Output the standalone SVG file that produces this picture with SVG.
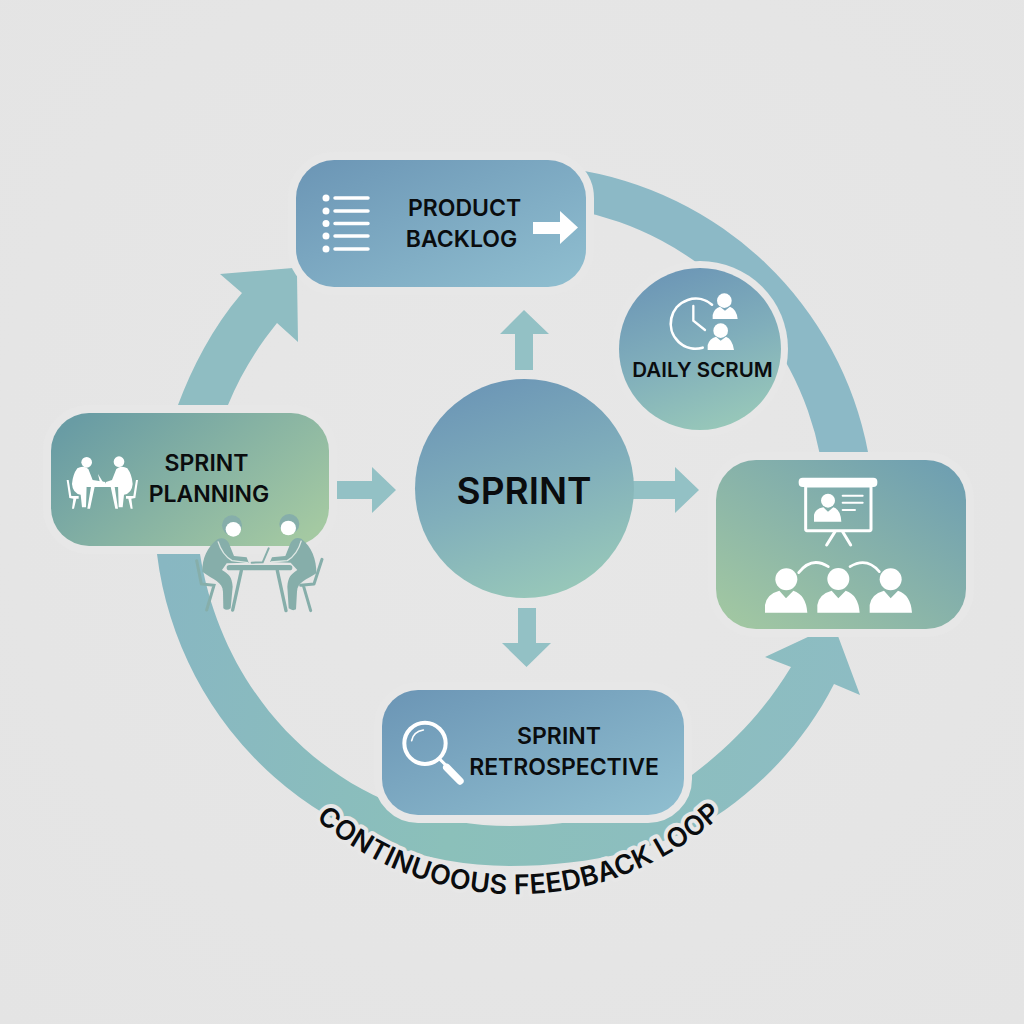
<svg xmlns="http://www.w3.org/2000/svg" width="1024" height="1024" viewBox="0 0 1024 1024">
<defs>
<radialGradient id="bg" cx="50%" cy="45%" r="75%"><stop offset="0" stop-color="#e7e7e7"/><stop offset="1" stop-color="#e4e4e4"/></radialGradient>
<linearGradient id="blue" x1="0" y1="0" x2="1" y2="1"><stop offset="0" stop-color="#6b95b5"/><stop offset="1" stop-color="#90bfd0"/></linearGradient>
<linearGradient id="greenL" x1="0" y1="0.2" x2="1" y2="0.8"><stop offset="0" stop-color="#699ca4"/><stop offset="1" stop-color="#a4c9a2"/></linearGradient>
<linearGradient id="greenR" x1="1" y1="0" x2="0" y2="1"><stop offset="0" stop-color="#6c9db2"/><stop offset="1" stop-color="#a4c9a1"/></linearGradient>
<linearGradient id="orb" x1="0.3" y1="0" x2="0.65" y2="1"><stop offset="0" stop-color="#6c96b6"/><stop offset="0.5" stop-color="#80aebb"/><stop offset="1" stop-color="#98c8b9"/></linearGradient>
<linearGradient id="band" gradientUnits="userSpaceOnUse" x1="160" y1="600" x2="860" y2="700"><stop offset="0" stop-color="#88b7c2"/><stop offset="0.45" stop-color="#8bc0ba"/><stop offset="1" stop-color="#8dbcc3"/></linearGradient>
<path id="loopPath" d="M316,819 A305 305 0 0 0 726,811"/>
</defs>
<style>
.ringT{fill:#8cb9c6}
.ringL{fill:#8fbdc2}
.ringB{fill:url(#band)}
.small{fill:#93c1c5}
.box{stroke:#e7e7e7;stroke-width:16;paint-order:stroke}
.lbl{font-family:"Inter","Liberation Sans",sans-serif;font-weight:600;fill:#0a0c0e;text-anchor:middle}
.loop{font-family:"Inter","Liberation Sans",sans-serif;font-weight:600;font-size:27px;letter-spacing:.3px}
.w{fill:#fff}
.ws{fill:none;stroke:#fff;stroke-linecap:round}
.fig{fill:#86aeaa}
.figs{fill:none;stroke:#86aeaa;stroke-linecap:round}
</style>
<rect width="1024" height="1024" fill="url(#bg)"/>

<g id="connectors">
<path class="ringL" d="M178,405 C192,368 212,328 242,293 L220,274 L293,268 L297,275 L298,342 L277,323 C256,349 240,376 228,405 Z"/>
<path class="ringT" d="M572,169 A352 352 0 0 1 868,452 L820,455 A310 310 0 0 0 575,210 Z"/>
<path class="ringB" d="M157,554 A355 355 0 0 0 510,866 C590,866 670,848 725,810 C770,778 808,735 834,684 L860,695 L838,636 L810,636 L765,657 L791,667 C765,710 732,745 692,775 C640,812 580,826 510,826 C350,826 225,710 200,554 Z"/>
<path class="small" d="M515,370 V334 H500 L524,310 L549,334 H533 V370 Z"/>
<path class="small" d="M336,481 H372 V467 L396,490 L372,513 V499 H336 Z"/>
<path class="small" d="M630,481 H675 V467 L699,490 L675,513 V499 H630 Z"/>
<path class="small" d="M518,608 H536 V643 H551 L526.500,667 L502,643 H518 Z"/>
</g>

<g id="feedback-loop-label">
<text class="loop" fill="none" stroke="#e7e7e7" stroke-width="8" stroke-linejoin="round"><textPath href="#loopPath">CONTINUOOUS FEEDBACK LOOP</textPath></text>
<text class="loop" fill="#0a0c0e"><textPath href="#loopPath">CONTINUOOUS FEEDBACK LOOP</textPath></text>
</g>

<g id="product-backlog">
<rect class="box" x="296" y="160" width="290" height="127" rx="38" fill="url(#blue)"/>
<g class="w"><circle cx="326" cy="198" r="3.500"/><circle cx="326" cy="211" r="3.500"/><circle cx="326" cy="223.500" r="3.500"/><circle cx="326" cy="236" r="3.500"/><circle cx="326" cy="249" r="3.500"/></g>
<path class="ws" stroke-width="3.500" d="M335,198 H368 M335,211 H368 M335,223.500 H368 M335,236 H368 M335,249 H368"/>
<path class="w" d="M533,222 H560 V211 L578,227.500 L560,244 V234 H533 Z"/>
<text class="lbl" x="464.500" y="216" font-size="23">PRODUCT</text>
<text class="lbl" x="461.500" y="247" font-size="23">BACKLOG</text>
</g>

<g id="sprint-planning">
<rect class="box" x="51" y="413" width="278" height="133" rx="38" fill="url(#greenL)"/>
<g transform="translate(40,400) scale(.33333)">
<g class="w">
<rect x="135" y="250" width="105" height="11" rx="5"/>
<path d="M153,260 L142,326 L150,326 L164,260 Z M212,260 L226,326 L234,326 L224,260 Z"/>
<path d="M174,222 L190,248 L180,248 Z"/>
<circle cx="140" cy="187" r="16"/>
<path d="M112,205 Q130,195 145,207 L158,240 L196,246 L196,252 L140,252 L138,322 L126,322 L122,284 Q98,280 96,252 Q98,224 112,205 Z"/>
<path d="M80,240 L86,240 L94,288 L116,288 L116,296 L109,296 L102,326 L96,326 L100,296 L88,294 Z"/>
<g transform="translate(374,0) scale(-1,1)">
<circle cx="137" cy="185" r="16"/>
<path d="M112,205 Q130,195 145,207 L158,240 L176,246 L176,252 L140,252 L138,322 L126,322 L122,284 Q98,280 96,252 Q98,224 112,205 Z"/>
<path d="M80,240 L86,240 L94,288 L116,288 L116,296 L109,296 L102,326 L96,326 L100,296 L88,294 Z"/>
</g>
</g>
</g>
<text class="lbl" x="206.500" y="471" font-size="23">SPRINT</text>
<text class="lbl" x="209" y="502" font-size="23">PLANNING</text>
<g transform="translate(40,400) scale(.33333)">
<path class="figs" stroke-width="9" d="M470,482 L484,552 L522,556 L500,630 M822,552 L846,478 M790,556 L812,632 M822,552 L782,556"/>
<rect class="fig" x="560" y="495" width="197" height="16" rx="8"/>
<path class="figs" stroke-width="10" d="M604,512 L578,630 M712,512 L738,632"/>
<path class="figs" stroke-width="6" d="M635,488 L668,487 L686,445"/>
<circle class="fig" cx="576" cy="376" r="30"/>
<ellipse class="w" cx="580" cy="388" rx="23" ry="22"/>
<path class="fig" d="M532,418 C502,440 486,478 487,515 C520,540 548,545 549,575 L550,625 Q560,634 572,625 L578,560 C576,530 566,522 546,510 L560,490 L626,488 L620,472 L582,468 L566,428 Q552,408 532,418 Z"/>
<path fill="none" stroke="#dfe8e4" stroke-width="4" d="M534,424 C542,450 556,470 576,482 L624,488"/>
<circle class="fig" cx="748" cy="372" r="30"/>
<ellipse class="w" cx="745" cy="384" rx="23" ry="22"/>
<path class="fig" d="M784,416 C815,440 830,478 829,520 C800,540 772,545 771,575 L768,628 Q758,634 746,625 L742,560 C744,530 754,522 772,510 L752,488 L690,486 L696,472 L736,468 L752,428 Q764,408 784,416 Z"/>
<path fill="none" stroke="#dfe8e4" stroke-width="4" d="M784,422 C776,450 762,470 742,482 L692,486"/>
</g>
</g>

<g id="sprint">
<circle cx="524.500" cy="488.500" r="109.500" fill="url(#orb)"/>
<text class="lbl" x="524" y="504" font-size="37">SPRINT</text>
</g>

<g id="daily-scrum">
<circle cx="700" cy="349" r="88" fill="#e7e7e7"/>
<circle cx="700" cy="349" r="81" fill="url(#orb)"/>
<g transform="translate(610,260) scale(.33333)">
<path class="ws" stroke-width="8" d="M306,134 A75 75 0 1 0 278,263"/>
<path class="ws" stroke-width="7" d="M250,138 V182 L285,210"/>
<circle class="w" cx="343" cy="122" r="22"/>
<path class="w" d="M308,177 V165 Q312,146 330,140 L345,152 L360,140 Q380,148 383,177 Z"/>
<circle class="w" cx="332" cy="212" r="22"/>
<path class="w" d="M293,270 V255 Q298,236 318,230 L332,242 L348,230 Q368,238 372,270 Z"/>
</g>
<text class="lbl" x="702.500" y="377" font-size="20.500">DAILY SCRUM</text>
</g>

<g id="sprint-review">
<rect class="box" x="716" y="460" width="250" height="169" rx="40" fill="url(#greenR)"/>
<g transform="translate(700,450) scale(.33333)">
<rect class="w" x="296" y="83" width="236" height="28" rx="12"/>
<rect x="317" y="108" width="196" height="134" fill="none" stroke="#fff" stroke-width="9" rx="4"/>
<circle class="w" cx="384" cy="152" r="21"/>
<path class="w" d="M342,215 V195 Q345,176 370,172 L384,185 L400,172 Q422,178 424,215 Z"/>
<path class="ws" stroke-width="6" d="M428,137 H488 M428,158 H488 M428,180 H465"/>
<path class="ws" stroke-width="9" d="M405,245 L380,285 M428,245 L452,285"/>
<circle class="w" cx="259" cy="388" r="33"/>
<path class="w" d="M195,488 V465 Q200,432 238,422 L258,445 L280,422 Q318,434 322,488 Z"/>
<circle class="w" cx="415" cy="387" r="33"/>
<path class="w" d="M352,488 V465 Q357,432 395,422 L415,445 L437,422 Q475,434 479,488 Z"/>
<circle class="w" cx="572" cy="388" r="33"/>
<path class="w" d="M509,488 V465 Q514,432 552,422 L572,445 L594,422 Q632,434 636,488 Z"/>
<path class="ws" stroke-width="8" d="M296,368 Q335,318 385,350 M450,350 Q500,320 538,365"/>
</g>
</g>

<g id="sprint-retrospective">
<rect class="box" x="382" y="690" width="302" height="125" rx="36" fill="url(#blue)"/>
<g transform="translate(370,680) scale(.33333)">
<circle cx="165" cy="190" r="62" fill="none" stroke="#fff" stroke-width="12"/>
<path class="ws" stroke-width="5" d="M125,182 Q130,155 160,150"/>
<path class="ws" stroke-width="9" d="M210,238 L228,256"/>
<path class="ws" stroke-width="22" d="M230,262 L270,303"/>
</g>
<text class="lbl" x="559" y="744" font-size="23">SPRINT</text>
<text class="lbl" x="564" y="775" font-size="23">RETROSPECTIVE</text>
</g>
</svg>
